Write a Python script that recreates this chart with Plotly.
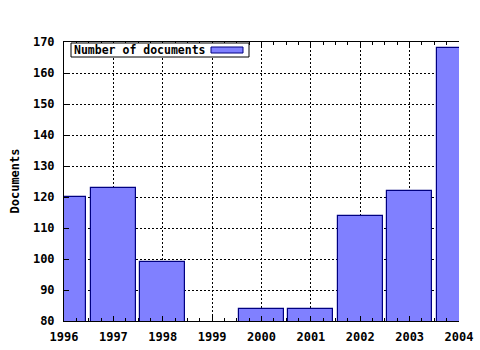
import plotly.graph_objects as go

years = [1996, 1997, 1998, 1999, 2000, 2001, 2002, 2003, 2004]
documents = [120, 123, 99, 78, 84, 84, 114, 122, 168]
series_name = "Number of documents"
y_title = "Documents"

FONT = "DejaVu Sans Mono"
FILL = "#8080ff"
EDGE = "#000080"

fig = go.Figure()
fig.add_trace(go.Bar(
    x=years, y=documents, name=series_name, width=0.91,
    marker=dict(color=FILL, line=dict(color=EDGE, width=1.2)),
    showlegend=False,
))

W, H = 480, 350
L, R, T, B = 64, 21, 42, 29
pw, ph = W - L - R, H - T - B

def px_x(p):
    return (p - L) / pw

def px_y(p):
    return (H - B - p) / ph

fig.update_layout(
    width=W, height=H,
    margin=dict(l=L, r=R, t=T, b=B, autoexpand=False),
    paper_bgcolor="white", plot_bgcolor="white",
    font=dict(family=FONT, size=12, color="black", weight="bold"),
    bargap=0,
    shapes=[
        dict(type="rect", xref="paper", yref="paper", layer="above",
             x0=px_x(71), x1=px_x(249), y0=px_y(57), y1=px_y(43),
             fillcolor="white", line=dict(color="black", width=1)),
        dict(type="rect", xref="paper", yref="paper", layer="above",
             x0=px_x(211), x1=px_x(243), y0=px_y(53), y1=px_y(47),
             fillcolor=FILL, line=dict(color=EDGE, width=1)),
    ],
    annotations=[
        dict(text=series_name, xref="paper", yref="paper",
             x=px_x(72), y=px_y(50), xanchor="left", yanchor="middle",
             showarrow=False,
             font=dict(family=FONT, size=11.5, color="black", weight="bold")),
        dict(text=y_title, xref="paper", yref="paper",
             x=px_x(14), y=0.5, xanchor="center", yanchor="middle",
             textangle=-90, showarrow=False,
             font=dict(family=FONT, size=12, color="black", weight="bold")),
    ],
)

fig.update_xaxes(
    range=[1996, 2004], tickvals=years, ticktext=[str(y) for y in years],
    ticks="inside", ticklen=5, tickcolor="black", ticklabelstandoff=5,
    minor=dict(dtick=0.25, tick0=1996, ticks="inside", ticklen=3, tickcolor="black", showgrid=False),
    showline=True, linecolor="black", linewidth=1, mirror="ticks",
    showgrid=True, gridcolor="black", gridwidth=1, griddash="2px,2px",
    zeroline=False, fixedrange=True, automargin=False,
    tickfont=dict(family=FONT, size=12, weight="bold"),
)
fig.update_yaxes(
    range=[80, 170], dtick=10, tick0=80,
    ticks="inside", ticklen=5, tickcolor="black", ticklabelstandoff=6,
    showline=True, linecolor="black", linewidth=1,
    showgrid=True, gridcolor="black", gridwidth=1, griddash="2px,2px",
    zeroline=False, fixedrange=True, automargin=False,
    tickfont=dict(family=FONT, size=12, weight="bold"),
)

fig.write_html("out.html")
